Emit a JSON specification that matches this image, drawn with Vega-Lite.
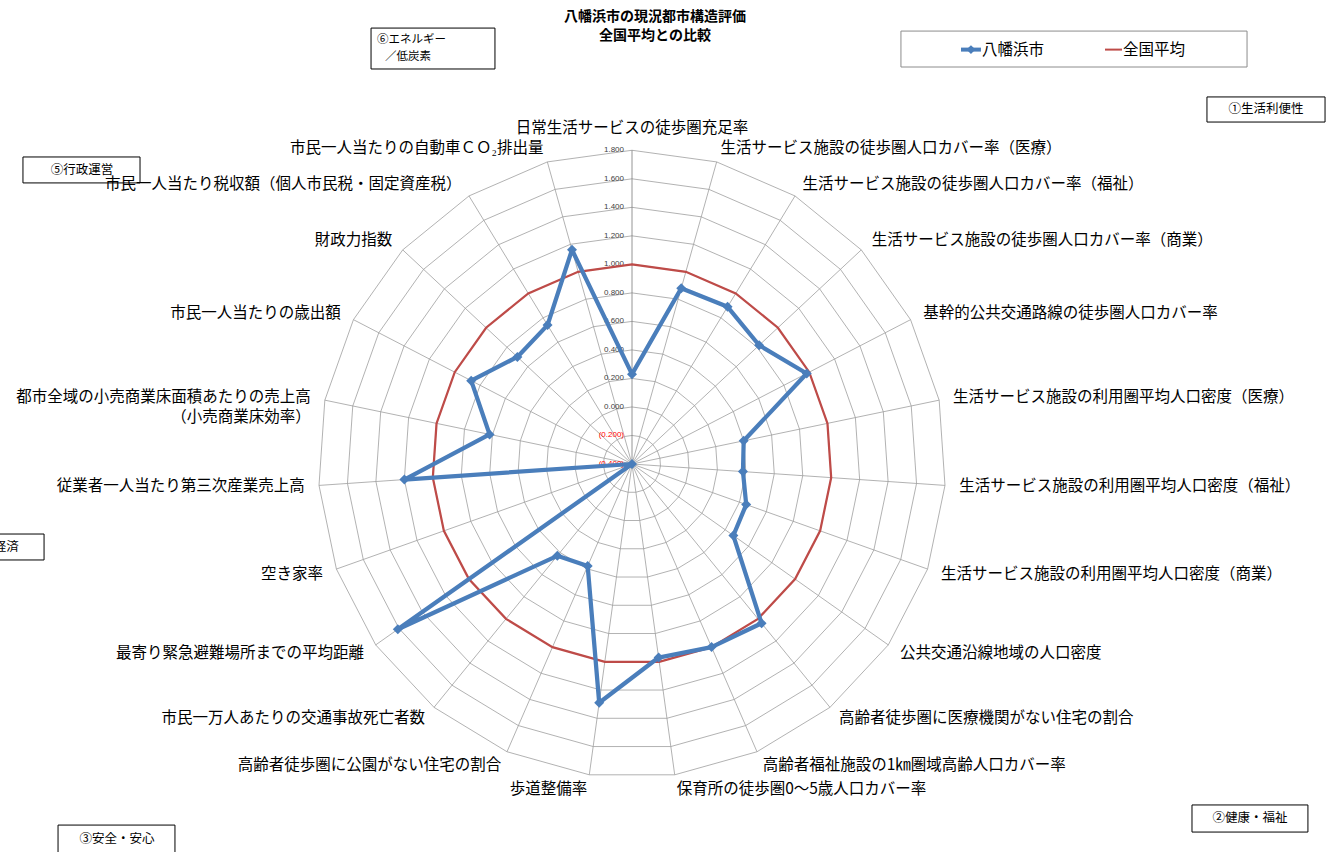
{
  "$schema": "https://vega.github.io/schema/vega-lite/v6.json",
  "width": 627.44,
  "height": 627.44,
  "autosize": {"type": "none"},
  "padding": {"left": 318.28, "top": 150.28, "right": 390.28, "bottom": 74.28},
  "background": "white",
  "config": {"view": {"stroke": null}, "font": "Noto Sans CJK JP"},
  "datasets": {
    "metrics": [
      {"i": 0, "label": "日常生活サービスの徒歩圏充足率", "八幡浜市": 0.23, "全国平均": 1.0},
      {"i": 1, "label": "生活サービス施設の徒歩圏人口カバー率（医療）", "八幡浜市": 0.88, "全国平均": 1.0},
      {"i": 2, "label": "生活サービス施設の徒歩圏人口カバー率（福祉）", "八幡浜市": 0.89, "全国平均": 1.0},
      {"i": 3, "label": "生活サービス施設の徒歩圏人口カバー率（商業）", "八幡浜市": 0.82, "全国平均": 1.0},
      {"i": 4, "label": "基幹的公共交通路線の徒歩圏人口カバー率", "八幡浜市": 0.98, "全国平均": 1.0},
      {"i": 5, "label": "生活サービス施設の利用圏平均人口密度（医療）", "八幡浜市": 0.40, "全国平均": 1.0},
      {"i": 6, "label": "生活サービス施設の利用圏平均人口密度（福祉）", "八幡浜市": 0.38, "全国平均": 1.0},
      {"i": 7, "label": "生活サービス施設の利用圏平均人口密度（商業）", "八幡浜市": 0.45, "全国平均": 1.0},
      {"i": 8, "label": "公共交通沿線地域の人口密度", "八幡浜市": 0.47, "全国平均": 1.0},
      {"i": 9, "label": "高齢者徒歩圏に医療機関がない住宅の割合", "八幡浜市": 1.04, "全国平均": 1.0},
      {"i": 10, "label": "高齢者福祉施設の1㎞圏域高齢人口カバー率", "八幡浜市": 1.00, "全国平均": 1.0},
      {"i": 11, "label": "保育所の徒歩圏0～5歳人口カバー率", "八幡浜市": 0.97, "全国平均": 1.0},
      {"i": 12, "label": "歩道整備率", "八幡浜市": 1.29, "全国平均": 1.0},
      {"i": 13, "label": "高齢者徒歩圏に公園がない住宅の割合", "八幡浜市": 0.38, "全国平均": 1.0},
      {"i": 14, "label": "市民一万人あたりの交通事故死亡者数", "八幡浜市": 0.43, "全国平均": 1.0},
      {"i": 15, "label": "最寄り緊急避難場所までの平均距離", "八幡浜市": 1.61, "全国平均": 1.0},
      {"i": 16, "label": "空き家率", "八幡浜市": -0.4, "全国平均": 1.0},
      {"i": 17, "label": "従業者一人当たり第三次産業売上高", "八幡浜市": 1.20, "全国平均": 1.0},
      {"i": 18, "label": "都市全域の小売商業床面積あたりの売上高\n（小売商業床効率）　", "八幡浜市": 0.62, "全国平均": 1.0},
      {"i": 19, "label": "市民一人当たりの歳出額", "八幡浜市": 0.87, "全国平均": 1.0},
      {"i": 20, "label": "財政力指数", "八幡浜市": 0.70, "全国平均": 1.0},
      {"i": 21, "label": "市民一人当たり税収額（個人市民税・固定資産税）", "八幡浜市": 0.74, "全国平均": 1.0},
      {"i": 22, "label": "市民一人当たりの自動車ＣＯ₂排出量", "八幡浜市": 1.16, "全国平均": 1.0}
    ],
    "levels": [
      {"lv": -0.4, "txt": "(0.400)"},
      {"lv": -0.2, "txt": "(0.200)"},
      {"lv": 0.0, "txt": "0.000"},
      {"lv": 0.2, "txt": "0.200"},
      {"lv": 0.4, "txt": "0.400"},
      {"lv": 0.6, "txt": "0.600"},
      {"lv": 0.8, "txt": "0.800"},
      {"lv": 1.0, "txt": "1.000"},
      {"lv": 1.2, "txt": "1.200"},
      {"lv": 1.4, "txt": "1.400"},
      {"lv": 1.6, "txt": "1.600"},
      {"lv": 1.8, "txt": "1.800"}
    ],
    "titles": [
      {"t": "八幡浜市の現況都市構造評価", "px": 0.161, "py": 3.135},
      {"t": "全国平均との比較", "px": 0.161, "py": 3.001}
    ],
    "boxes": [
      {"name": "legend", "px": 1.886, "px2": 4.313, "py": 3.036, "py2": 2.784},
      {"name": "⑥", "px": -1.830, "px2": -0.961, "py": 3.057, "py2": 2.770},
      {"name": "①", "px": 4.032, "px2": 4.860, "py": 2.574, "py2": 2.398},
      {"name": "②", "px": 3.927, "px2": 4.740, "py": -2.391, "py2": -2.581},
      {"name": "③", "px": -4.025, "px2": -3.205, "py": -2.532, "py2": -2.728},
      {"name": "④", "px": -4.958, "px2": -4.123, "py": -0.491, "py2": -0.673},
      {"name": "⑤", "px": -4.271, "px2": -3.450, "py": 2.153, "py2": 1.971}
    ],
    "boxtext": [
      {"t": "⑥エネルギー", "px": -1.788, "py": 2.973},
      {"t": "／低炭素", "px": -1.732, "py": 2.857},
      {"t": "①生活利便性", "px": 4.446, "py": 2.489},
      {"t": "②健康・福祉", "px": 4.334, "py": -2.482},
      {"t": "③安全・安心", "px": -3.612, "py": -2.630},
      {"t": "④経済", "px": -4.432, "py": -0.582},
      {"t": "⑤行政運営", "px": -3.857, "py": 2.062}
    ],
    "legenditems": [
      {"series": "八幡浜市", "px": 2.307, "px2": 2.447, "py": 2.906, "tx": 2.454},
      {"series": "全国平均", "px": 3.317, "px2": 3.436, "py": 2.906, "tx": 3.443}
    ]
  },
  "encoding": {
    "x": {"field": "px", "type": "quantitative", "scale": {"domain": [-2.2, 2.2], "nice": false, "zero": false}, "axis": null},
    "y": {"field": "py", "type": "quantitative", "scale": {"domain": [-2.2, 2.2], "nice": false, "zero": false}, "axis": null}
  },
  "layer": [
    {
      "data": {"name": "metrics"},
      "transform": [
        {"calculate": "[-0.2, 0, 0.2, 0.4, 0.6, 0.8, 1.0, 1.2, 1.4, 1.6, 1.8]", "as": "ring"},
        {"flatten": ["ring"]},
        {"calculate": "datum.i * 2 * PI / 23", "as": "ang"},
        {"calculate": "(datum.ring + 0.4) * sin(datum.ang)", "as": "px"},
        {"calculate": "(datum.ring + 0.4) * cos(datum.ang)", "as": "py"}
      ],
      "mark": {"type": "line", "interpolate": "linear-closed", "stroke": "#9e9e9e", "strokeWidth": 0.8},
      "encoding": {
        "detail": {"field": "ring", "type": "nominal"},
        "order": {"field": "i", "type": "quantitative"}
      }
    },
    {
      "data": {"name": "metrics"},
      "transform": [
        {"calculate": "datum.i * 2 * PI / 23", "as": "ang"},
        {"calculate": "0", "as": "px"},
        {"calculate": "0", "as": "py"},
        {"calculate": "2.2 * sin(datum.ang)", "as": "px2"},
        {"calculate": "2.2 * cos(datum.ang)", "as": "py2"}
      ],
      "mark": {"type": "rule", "strokeWidth": 0.8},
      "encoding": {
        "x2": {"field": "px2"},
        "y2": {"field": "py2"},
        "color": {"condition": {"test": "datum.i == 0", "value": "#7a7a7a"}, "value": "#9e9e9e"}
      }
    },
    {
      "data": {"name": "levels"},
      "transform": [
        {"calculate": "0", "as": "px"},
        {"calculate": "datum.lv + 0.4", "as": "py"}
      ],
      "mark": {"type": "text", "align": "right", "baseline": "middle", "dx": -8, "fontSize": 8, "font": "Liberation Sans"},
      "encoding": {
        "text": {"field": "txt"},
        "color": {"condition": {"test": "datum.lv < 0", "value": "#ff0000"}, "value": "#404040"}
      }
    },
    {
      "data": {"name": "metrics"},
      "transform": [
        {"calculate": "datum.i * 2 * PI / 23", "as": "ang"},
        {"calculate": "(datum['全国平均'] + 0.4) * sin(datum.ang)", "as": "px"},
        {"calculate": "(datum['全国平均'] + 0.4) * cos(datum.ang)", "as": "py"},
        {"calculate": "'全国平均'", "as": "series"}
      ],
      "mark": {"type": "line", "interpolate": "linear-closed", "strokeWidth": 2.25},
      "encoding": {
        "order": {"field": "i", "type": "quantitative"},
        "color": {"field": "series", "type": "nominal", "scale": {"domain": ["八幡浜市", "全国平均"], "range": ["#4A7EBB", "#BE4B48"]}, "legend": null}
      }
    },
    {
      "data": {"name": "metrics"},
      "transform": [
        {"calculate": "datum.i * 2 * PI / 23", "as": "ang"},
        {"calculate": "(datum['八幡浜市'] + 0.4) * sin(datum.ang)", "as": "px"},
        {"calculate": "(datum['八幡浜市'] + 0.4) * cos(datum.ang)", "as": "py"},
        {"calculate": "'八幡浜市'", "as": "series"}
      ],
      "layer": [
        {
          "mark": {"type": "line", "interpolate": "linear-closed", "strokeWidth": 4.25, "strokeJoin": "round"},
          "encoding": {
            "order": {"field": "i", "type": "quantitative"},
            "color": {"field": "series", "type": "nominal", "legend": null}
          }
        },
        {
          "mark": {"type": "point", "shape": "diamond", "filled": true, "size": 100, "opacity": 1},
          "encoding": {
            "color": {"field": "series", "type": "nominal", "legend": null}
          }
        }
      ]
    },
    {
      "data": {"name": "boxes"},
      "transform": [{"filter": "datum.name == 'legend'"}],
      "mark": {"type": "rect", "fill": "white", "stroke": "#8c8c8c", "strokeWidth": 1},
      "encoding": {"x2": {"field": "px2"}, "y2": {"field": "py2"}}
    },
    {
      "data": {"name": "boxes"},
      "transform": [{"filter": "datum.name != 'legend'"}],
      "mark": {"type": "rect", "fill": "white", "stroke": "black", "strokeWidth": 1},
      "encoding": {"x2": {"field": "px2"}, "y2": {"field": "py2"}}
    },
    {
      "data": {"name": "boxtext"},
      "layer": [
        {
          "transform": [{"filter": "datum.t == '⑥エネルギー' || datum.t == '／低炭素'"}],
          "mark": {"type": "text", "align": "left", "baseline": "middle", "fontSize": 11.5, "color": "black"},
          "encoding": {"text": {"field": "t"}}
        },
        {
          "transform": [{"filter": "datum.t != '⑥エネルギー' && datum.t != '／低炭素'"}],
          "mark": {"type": "text", "align": "center", "baseline": "middle", "fontSize": 12.5, "color": "black"},
          "encoding": {"text": {"field": "t"}}
        }
      ]
    },
    {
      "data": {"name": "metrics"},
      "transform": [
        {"calculate": "datum.i * 2 * PI / 23", "as": "ang"},
        {"calculate": "2.3 * sin(datum.ang)", "as": "px"},
        {"calculate": "2.3 * cos(datum.ang)", "as": "py"}
      ],
      "layer": [
        {
          "transform": [{"filter": "datum.i == 0"}],
          "mark": {"type": "text", "align": "center", "baseline": "bottom", "fontSize": 15.5, "color": "black"},
          "encoding": {"text": {"field": "label"}}
        },
        {
          "transform": [{"filter": "datum.i >= 1 && datum.i <= 11"}],
          "mark": {"type": "text", "align": "left", "baseline": "middle", "fontSize": 15.5, "color": "black", "lineBreak": "\n", "lineHeight": 20},
          "encoding": {"text": {"field": "label"}}
        },
        {
          "transform": [{"filter": "datum.i >= 12"}],
          "mark": {"type": "text", "align": "right", "baseline": "middle", "fontSize": 15.5, "color": "black", "lineBreak": "\n", "lineHeight": 20},
          "encoding": {"text": {"field": "label"}}
        }
      ]
    },
    {
      "data": {"name": "titles"},
      "mark": {"type": "text", "align": "center", "baseline": "middle", "fontSize": 14, "fontWeight": "bold", "color": "black"},
      "encoding": {"text": {"field": "t"}}
    },
    {
      "data": {"name": "legenditems"},
      "layer": [
        {
          "mark": {"type": "rule"},
          "encoding": {
            "x2": {"field": "px2"},
            "color": {"field": "series", "type": "nominal", "legend": null},
            "strokeWidth": {"field": "series", "type": "nominal", "scale": {"domain": ["八幡浜市", "全国平均"], "range": [4, 2]}, "legend": null}
          }
        },
        {
          "transform": [
            {"filter": "datum.series == '八幡浜市'"},
            {"calculate": "(datum.px + datum.px2) / 2", "as": "px"}
          ],
          "mark": {"type": "point", "shape": "diamond", "filled": true, "size": 80, "opacity": 1},
          "encoding": {"color": {"field": "series", "type": "nominal", "legend": null}}
        },
        {
          "transform": [{"calculate": "datum.tx", "as": "px"}],
          "mark": {"type": "text", "align": "left", "baseline": "middle", "fontSize": 15.5, "color": "black"},
          "encoding": {"text": {"field": "series"}}
        }
      ]
    }
  ]
}
